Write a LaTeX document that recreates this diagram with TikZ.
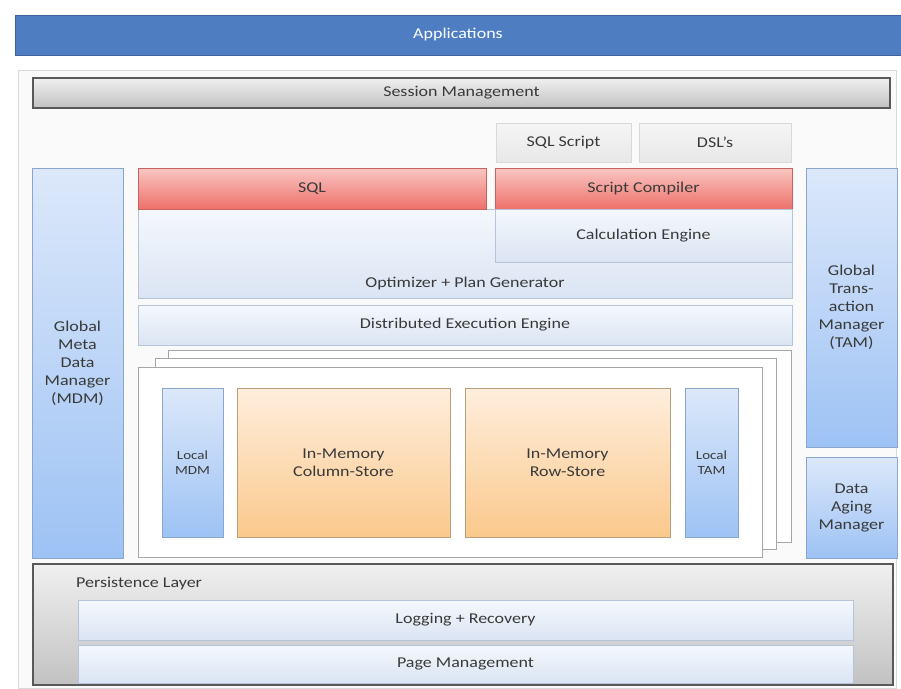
\documentclass[tikz,border=0pt]{standalone}
\usepackage{fontspec}
\setmainfont{Carlito}[FakeStretch=1.2]
\usetikzlibrary{shadows}

\definecolor{appblue}{HTML}{4E7EC1}
\definecolor{txtgray}{HTML}{3A3A3A}
\definecolor{bluetop}{HTML}{DCE8FA}
\definecolor{bluebot}{HTML}{9DC2F4}
\definecolor{blueedge}{HTML}{8AA6CC}
\definecolor{paletop}{HTML}{F5F8FD}
\definecolor{palebot}{HTML}{DAE4F3}
\definecolor{paleedge}{HTML}{B5C4D8}
\definecolor{redtop}{HTML}{F9C6C1}
\definecolor{redbot}{HTML}{EE716C}
\definecolor{rededge}{HTML}{C8625E}
\definecolor{orangetop}{HTML}{FEEEDD}
\definecolor{orangebot}{HTML}{FBC98C}
\definecolor{orangeedge}{HTML}{B8A07A}

\begin{document}
\begin{tikzpicture}[x=1pt, y=-1pt,
    every node/.style={font=\fontsize{15}{18}\selectfont, text=txtgray, inner sep=0pt, align=center},
    boxshadow/.style={drop shadow={shadow xshift=1.2pt, shadow yshift=-1.2pt, opacity=0.25, fill=black}},
    appbar/.style={draw=appblue!80!black, fill=appblue, text=white},
    graybar/.style={draw=black!65, line width=1.4pt, top color=black!6, bottom color=black!24},
    plainbox/.style={draw=black!15, top color=black!4, bottom color=black!9},
    redbox/.style={draw=rededge, top color=redtop, bottom color=redbot, boxshadow},
    palebox/.style={draw=paleedge, top color=paletop, bottom color=palebot, boxshadow},
    bluebox/.style={draw=blueedge, top color=bluetop, bottom color=bluebot, boxshadow},
    orangebox/.style={draw=orangeedge, top color=orangetop, bottom color=orangebot, boxshadow},
    stackbox/.style={draw=black!35, fill=white, boxshadow},
    localtxt/.style={font=\fontsize{12.5}{15}\selectfont}]

    \useasboundingbox (0,0) rectangle (901,688);
    \draw[black!15, fill=black!2] (18,70) rectangle (896,688);

    \node[appbar, minimum width=886, minimum height=40] (apps) at (458,35) {Applications};
    \node[graybar, minimum width=857, minimum height=30] (sess) at (461.5,93) {Session Management};

    \node[plainbox, minimum width=135, minimum height=39] (sqlscript) at (563.5,142.5) {SQL Script};
    \node[plainbox, minimum width=152, minimum height=39] (dsl) at (715,142.5) {DSL's};

    \node[palebox, minimum width=654, minimum height=89] (optim) at (465,253.5) {};
    \node (optlbl) at (465,283) {Optimizer + Plan Generator};
    \node[redbox, minimum width=348, minimum height=41] (sql) at (312,188.5) {SQL};
    \node[redbox, minimum width=297, minimum height=41] (scomp) at (643.5,188.5) {Script Compiler};
    \node[palebox, minimum width=297, minimum height=53] (calc) at (643.5,235.5) {Calculation Engine};

    \node[palebox, minimum width=654, minimum height=40] (dee) at (465,325) {Distributed Execution Engine};

    \node[stackbox, minimum width=623, minimum height=192] (back) at (479.5,446) {};
    \node[stackbox, minimum width=621, minimum height=191] (middle) at (465.5,453.5) {};
    \node[stackbox, minimum width=624, minimum height=190] (front) at (450,462) {};

    \node[bluebox, localtxt, minimum width=61, minimum height=149] (lmdm) at (192.5,462.5) {Local\\MDM};
    \node[orangebox, minimum width=213, minimum height=149] (colstore) at (343.5,462.5) {In-Memory\\Column-Store};
    \node[orangebox, minimum width=205, minimum height=149] (rowstore) at (567.5,462.5) {In-Memory\\Row-Store};
    \node[bluebox, localtxt, minimum width=53, minimum height=149] (ltam) at (711.5,462.5) {Local\\TAM};

    \node[bluebox, minimum width=91, minimum height=390] (gmdm) at (77.5,363) {Global\\Meta\\Data\\Manager\\(MDM)};
    \node[bluebox, minimum width=91, minimum height=279] (gtam) at (851.5,307.5) {Global\\Trans-\\action\\Manager\\(TAM)};
    \node[bluebox, minimum width=91, minimum height=101] (dam) at (851.5,507.5) {Data\\Aging\\Manager};

    \node[graybar, minimum width=860, minimum height=121] (persist) at (463,624.5) {};
    \node[anchor=west] (perslbl) at (76,584) {Persistence Layer};
    \node[palebox, minimum width=775, minimum height=40] (log) at (465.5,620) {Logging + Recovery};
    \node[palebox, minimum width=775, minimum height=38] (page) at (465.5,664) {Page Management};

\end{tikzpicture}
\end{document}
